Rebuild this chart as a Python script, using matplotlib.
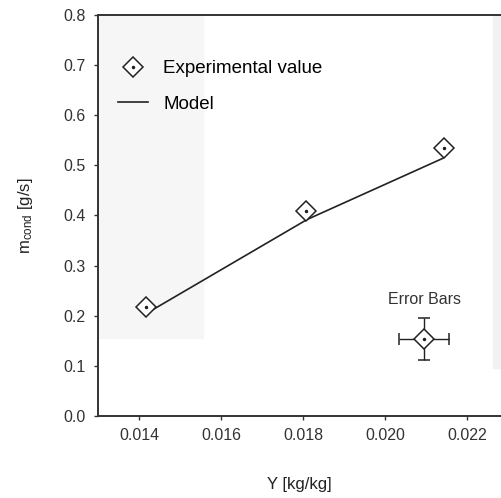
import numpy as np
import matplotlib.pyplot as plt
from matplotlib.patches import Rectangle
from matplotlib.legend_handler import HandlerTuple

plt.rcParams['font.family'] = ['Liberation Sans', 'DejaVu Sans']
plt.rcParams['mathtext.default'] = 'regular'

# experimental points
y_exp = [0.01417, 0.01807, 0.02144]
m_exp = [0.218, 0.408, 0.534]

# model curve
y_mod = [0.01421, 0.01810, 0.02141]
m_mod = [0.206, 0.392, 0.514]

# representative error bar
err_x = [0.02095]
err_y = [0.153]
err_dx = [0.00061]
err_dy = [0.042]

xticks = [0.014, 0.016, 0.018, 0.020, 0.022]
yticks = [0.0, 0.1, 0.2, 0.3, 0.4, 0.5, 0.6, 0.7, 0.8]

fig = plt.figure(figsize=(5.01, 4.98), dpi=100)
ax = fig.add_axes([98/501, 1-416/498, 403/501, 401/498])
ax.patch.set_alpha(0)

# faint scan shading
fig.patches.append(Rectangle((98/501, 1-338/498), 105/501, 323/498,
                             transform=fig.transFigure, color='#f6f6f6', zorder=-1))
fig.patches.append(Rectangle((493/501, 1-368/498), 8/501, 353/498,
                             transform=fig.transFigure, color='#f2f2f2', zorder=-1))

ln, = ax.plot(y_mod, m_mod, color='#222222', lw=1.2, zorder=2)
mk, = ax.plot(y_exp, m_exp, ls='none', marker='D', ms=10, mfc='white',
              mec='#222222', mew=1.1, zorder=3)
dt, = ax.plot(y_exp, m_exp, ls='none', marker='o', ms=1.5, color='#222222', zorder=4)

ax.errorbar(err_x, err_y, xerr=err_dx, yerr=err_dy, fmt='D', ms=10, mfc='white',
            mec='#222222', mew=1.1, ecolor='#222222', elinewidth=1.0, capsize=4,
            capthick=1.0, zorder=3)
ax.plot(err_x, err_y, ls='none', marker='o', ms=1.5, color='#222222', zorder=5)
ax.text(err_x[0] + 0.00002, 0.232, 'Error Bars', ha='center', va='center',
        fontsize=11.5, color='#333333')

ax.set_xlim(0.013, 0.02283)
ax.set_ylim(0.0, 0.8)
ax.set_xticks(xticks)
ax.set_xticklabels(['%.3f' % v for v in xticks])
ax.set_yticks(yticks)
ax.set_yticklabels(['%.1f' % v for v in yticks])
ax.tick_params(direction='out', length=3, width=1, labelsize=11.5,
               colors='#333333', pad=6)

ax.spines['right'].set_visible(False)
for s in ['left', 'bottom', 'top']:
    ax.spines[s].set_linewidth(1.4)
    ax.spines[s].set_color('#333333')

ax.set_xlabel('Y [kg/kg]', fontsize=12, color='#222222', labelpad=24)
ax.set_ylabel('m$_{cond}$ [g/s]', fontsize=12, color='#222222', labelpad=20)

ax.legend([(mk, dt), ln], ['Experimental value', 'Model'],
          handler_map={tuple: HandlerTuple(ndivide=1)},
          loc='upper left', bbox_to_anchor=(0.008, 0.93), frameon=False,
          fontsize=13.5, handlelength=1.6, handletextpad=0.8, labelspacing=1.0)

fig.savefig('out.png', dpi=100)
